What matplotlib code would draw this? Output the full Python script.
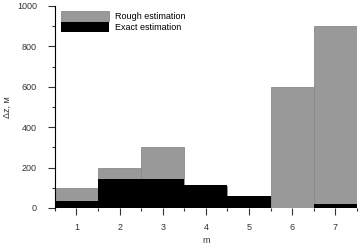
import matplotlib
matplotlib.use('Agg')
import matplotlib.pyplot as plt
from matplotlib.ticker import MultipleLocator

plt.rcParams['font.family'] = ['Liberation Sans', 'DejaVu Sans']

# Data
m = [1, 2, 3, 4, 5, 6, 7]
rough = [100, 200, 300, 110, 58, 600, 900]
exact = [35, 145, 142, 113, 58, 0, 20]

fig = plt.figure(figsize=(3.59, 2.47), dpi=100)
ax = fig.add_axes([0.153, 0.158, 0.841, 0.818])

ax.bar(m, rough, width=1.0, color='#999999', edgecolor='#8a8a8a', linewidth=0.6,
       label='Rough estimation')
ax.bar(m, exact, width=1.0, color='black', linewidth=0, label='Exact estimation')

ax.set_xlim(0.5, 7.5)
ax.set_ylim(0, 1000)
ax.set_xticks(m)
ax.xaxis.set_minor_locator(MultipleLocator(1, offset=0.5))
ax.yaxis.set_major_locator(MultipleLocator(200))
ax.yaxis.set_minor_locator(MultipleLocator(100))

for s in ['top', 'right', 'bottom']:
    ax.spines[s].set_visible(False)
ax.spines['left'].set_linewidth(0.8)
ax.tick_params(axis='both', which='major', length=5, width=0.8, labelsize=6.5,
               colors='#333333')
ax.tick_params(axis='both', which='minor', length=2.5, width=0.8, colors='#333333')
ax.tick_params(axis='x', which='major', pad=6)
ax.tick_params(axis='y', which='major', pad=8)

ax.set_xlabel('m', fontsize=6.5, color='#333333', labelpad=3)
ax.set_ylabel('Δz, м', fontsize=6.5, color='#333333', labelpad=3.5)

ax.legend(loc='upper left', bbox_to_anchor=(0.005, 0.995), frameon=False,
          fontsize=6.5, handlelength=5.3, handleheight=1.3, labelspacing=0.1,
          handletextpad=0.7, borderaxespad=0.1)

plt.savefig('out.png', dpi=100)
